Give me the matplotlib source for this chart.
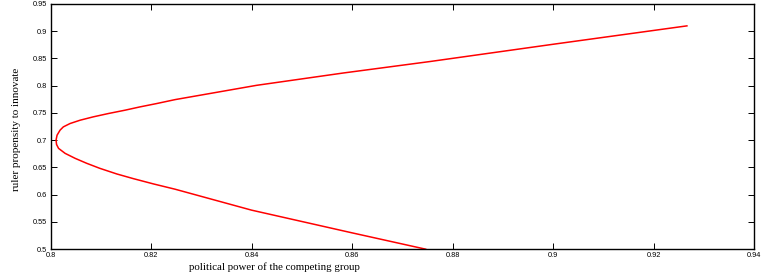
import matplotlib
matplotlib.use("Agg")
import matplotlib.pyplot as plt

# curve (lower end -> vertex -> upper end)
power = [0.8748, 0.8599, 0.8400, 0.8248, 0.8205, 0.8165, 0.8132, 0.8098, 0.8072,
         0.8049, 0.8029, 0.8016, 0.8012, 0.8011, 0.8013, 0.8019, 0.80255, 0.8039,
         0.8059, 0.8085, 0.8115, 0.8148, 0.8178, 0.8211, 0.8248, 0.8410, 0.8583,
         0.8755, 0.9000, 0.9268]
propensity = [0.4994, 0.5299, 0.5714, 0.6098, 0.6195, 0.6292, 0.6378, 0.6482, 0.6574,
              0.6665, 0.6757, 0.6848, 0.692, 0.700, 0.709, 0.7183, 0.7243, 0.7305,
              0.7366, 0.7427, 0.7488, 0.7549, 0.7610, 0.7671, 0.7744, 0.8006, 0.8233,
              0.8443, 0.8760, 0.9100]

xticks = [0.8, 0.82, 0.84, 0.86, 0.88, 0.9, 0.92, 0.94]
xticklabels = ["0.8", "0.82", "0.84", "0.86", "0.88", "0.9", "0.92", "0.94"]
yticks = [0.5, 0.55, 0.6, 0.65, 0.7, 0.75, 0.8, 0.85, 0.9, 0.95]
yticklabels = ["0.5", "0.55", "0.6", "0.65", "0.7", "0.75", "0.8", "0.85", "0.9", "0.95"]

fig = plt.figure(figsize=(7.62, 2.79), dpi=100)
ax = fig.add_axes([0.0663, 0.1075, 0.9232, 0.8782])
ax.plot(power, propensity, color="#ff0000", linewidth=1.1,
        solid_joinstyle="round", solid_capstyle="butt")

ax.set_xlim(0.8, 0.94)
ax.set_ylim(0.5, 0.95)
ax.set_xticks(xticks)
ax.set_xticklabels(xticklabels, family="Liberation Sans", fontsize=5.3)
ax.set_yticks(yticks)
ax.set_yticklabels(yticklabels, family="Liberation Sans", fontsize=5.3)
ax.tick_params(direction="in", length=4.5, width=0.7, top=True, right=True, pad=2.5)
for s in ax.spines.values():
    s.set_linewidth(1.0)

ax.set_xlabel("political power of the competing group", family="Liberation Serif", fontsize=7.8)
ax.xaxis.set_label_coords(0.319, -0.055)
ax.set_ylabel("ruler propensity to innovate", family="Liberation Serif", fontsize=8.0)
ax.yaxis.set_label_coords(-0.042, 0.49)

fig.savefig("out.png", dpi=100)
